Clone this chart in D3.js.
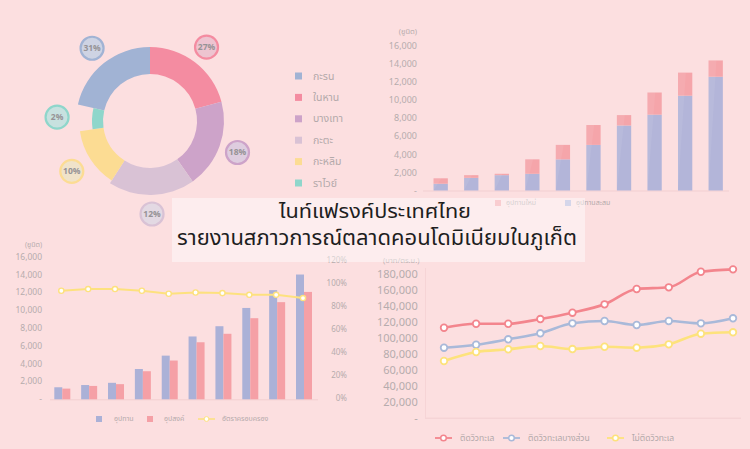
<!DOCTYPE html>
<html>
<head>
<meta charset="utf-8">
<script src="https://cdn.jsdelivr.net/npm/d3@7"></script>
<style>
  html, body { margin:0; padding:0; background:#fcdfe0; }
  svg { display:block; font-family:"Noto Sans Thai","Noto Sans","DejaVu Sans",sans-serif; }
  .tick-lbl { fill:#b6acad; }
  .leg { fill:#b3a9aa; }
</style>
</head>
<body>
<svg id="chart" width="750" height="449"></svg>
<script>
// donut: districts
var districts = ["กะรน", "ในหาน", "บางเทา", "กะตะ", "กะหลิม", "ราไวย์"];
var districtPct = [31, 27, 18, 12, 10, 2];
// angular share of each slice as drawn in the picture
var districtShare = [21.4, 20.8, 19.4, 18.9, 13.6, 5.9];
var districtColors = ["#a1b3d4", "#f48ca1", "#cda3c9", "#d9c2d5", "#fcdc93", "#8fd6cb"];

// top right: stacked supply
var periods = ["1", "2", "3", "4", "5", "6", "7", "8", "9", "10"];
var cumSupply = [750, 1400, 1700, 1850, 3450, 5050, 7200, 8400, 10500, 12600];
var newSupply = [600, 300, 150, 1600, 1600, 2200, 1150, 2450, 2550, 1800];

// bottom left: supply / demand / occupancy
var supply = [1350, 1600, 1850, 3400, 4900, 7050, 8200, 10250, 12250, 14000];
var demand = [1200, 1500, 1700, 3150, 4350, 6400, 7350, 9100, 10900, 12050];
var occupancy = [0.933, 0.948, 0.948, 0.933, 0.907, 0.918, 0.913, 0.898, 0.898, 0.870];

// bottom right: price per sq.m.
var priceSeaView = [112700, 117700, 117700, 123600, 131500, 142000, 161200, 163300, 182800, 185800];
var pricePartView = [87700, 91400, 98200, 105700, 118200, 121100, 116100, 121100, 118200, 124500];
var priceNoView = [71000, 82300, 85700, 89800, 86000, 88900, 87700, 91900, 105200, 107000];
var priceNames = ["ติดวิวทะเล", "ติดวิวทะเลบางส่วน", "ไม่ติดวิวทะเล"];
var priceColors = ["#f3858d", "#a9b9d9", "#fde27c"];

var svg = d3.select("#chart");
var numFmt = function(d){ return d == 0 ? "-" : d3.format(",")(d); };

drawDonut();
drawStacked();
drawCombo();
drawLines();
drawTitle();

function drawDonut(){
	var cx = 150, cy = 121;
	var total = d3.sum(districtShare);
	var pie = d3.pie().sort(null).value(function(d){ return d; })
		.startAngle(-districtShare[0] / total * Math.PI * 2)
		.endAngle(Math.PI * 2 - districtShare[0] / total * Math.PI * 2);
	var arcs = pie(districtShare);
	var outerR = d3.scaleLinear().domain([2, 12]).range([58, 74]).clamp(true);

	var g = svg.append("g").attr("transform", "translate(" + cx + "," + cy + ")");
	g.selectAll("path.slice")
		.data(arcs)
		.enter().append("path")
		.attr("class", "slice")
		.attr("d", function(d, i){
			return d3.arc().innerRadius(47).outerRadius(outerR(districtPct[i]))(d);
		})
		.attr("fill", function(d, i){ return districtColors[i]; });

	var lblArc = d3.arc().innerRadius(93).outerRadius(93);
	var lbl = g.selectAll("g.lbl")
		.data(arcs)
		.enter().append("g")
		.attr("class", "lbl")
		.attr("transform", function(d){ return "translate(" + lblArc.centroid(d) + ")"; });
	lbl.append("circle")
		.attr("r", 11.5)
		.attr("fill", function(d, i){ return d3.interpolateRgb(districtColors[i], "#e9e7ec")(0.62); })
		.attr("stroke", function(d, i){ return districtColors[i]; })
		.attr("stroke-width", 2.2);
	lbl.append("text")
		.attr("text-anchor", "middle")
		.attr("dy", "0.35em")
		.attr("font-size", 8.5)
		.attr("font-weight", "bold")
		.attr("fill", "#969396")
		.text(function(d, i){ return districtPct[i] + "%"; });

	// legend
	var leg = svg.append("g").attr("class", "donutLegend");
	var rowY = d3.scalePoint().domain(districts).range([76, 183]);
	districts.forEach(function(name, i){
		leg.append("rect")
			.attr("x", 295).attr("y", rowY(name) - 3.5)
			.attr("width", 7).attr("height", 7)
			.attr("fill", districtColors[i]);
		leg.append("text")
			.attr("class", "leg")
			.attr("x", 313).attr("y", rowY(name))
			.attr("dy", "0.35em")
			.attr("font-size", 10.5)
			.text(name);
	});
}

function drawStacked(){
	var x = d3.scalePoint().domain(periods).range([440.7, 715.7]);
	var y = d3.scaleLinear().domain([0, 16000]).range([190.5, 46]);
	var bw = 14.3;
	var g = svg.append("g");

	g.selectAll("text.yt")
		.data(y.ticks(8))
		.enter().append("text")
		.attr("class", "tick-lbl")
		.attr("x", 417).attr("y", function(d){ return y(d); })
		.attr("dy", "0.35em")
		.attr("text-anchor", "end")
		.attr("font-size", 9)
		.text(numFmt);
	g.append("text").attr("class", "tick-lbl")
		.attr("x", 417).attr("y", 34).attr("text-anchor", "end")
		.attr("font-size", 7.5).text("(ยูนิต)");

	g.append("line")
		.attr("x1", 423).attr("x2", 729)
		.attr("y1", y(0) + 0.5).attr("y2", y(0) + 0.5)
		.attr("stroke", "#f2cfd1");

	g.selectAll("rect.cum")
		.data(cumSupply)
		.enter().append("rect")
		.attr("x", function(d, i){ return x(periods[i]) - bw / 2; })
		.attr("y", function(d){ return y(d); })
		.attr("width", bw)
		.attr("height", function(d){ return y(0) - y(d); })
		.attr("fill", "#b3b5d9");
	g.selectAll("rect.new")
		.data(newSupply)
		.enter().append("rect")
		.attr("x", function(d, i){ return x(periods[i]) - bw / 2; })
		.attr("y", function(d, i){ return y(cumSupply[i] + d); })
		.attr("width", bw)
		.attr("height", function(d){ return y(0) - y(d); })
		.attr("fill", "#f5a5aa");
	// light facet on each bar
	g.selectAll("path.facet")
		.data(periods)
		.enter().append("path")
		.attr("d", function(d, i){
			var x0 = x(d) - bw / 2, top = y(cumSupply[i] + newSupply[i]);
			return "M" + x0 + "," + top + "L" + (x0 + bw * 0.55) + "," + top + "L" + x0 + "," + y(0) + "Z";
		})
		.attr("fill", "#fff").attr("fill-opacity", 0.07);

	var legend = [["อุปทานใหม่", "#f5a5aa", 495], ["อุปทานสะสม", "#b3b5d9", 565]];
	legend.forEach(function(l){
		g.append("rect").attr("x", l[2]).attr("y", 200).attr("width", 6).attr("height", 6).attr("fill", l[1]);
		g.append("text").attr("class", "leg").attr("x", l[2] + 11).attr("y", 203).attr("dy", "0.35em")
			.attr("font-size", 7).text(l[0]);
	});
}

function drawCombo(){
	var x = d3.scalePoint().domain(periods).range([62.3, 304]);
	var y = d3.scaleLinear().domain([0, 16000]).range([399.3, 256.7]);
	var y2 = d3.scaleLinear().domain([0, 1.2]).range([398.3, 260]);
	var bw = 8;
	var g = svg.append("g");

	g.selectAll("text.yl")
		.data(y.ticks(8))
		.enter().append("text")
		.attr("class", "tick-lbl")
		.attr("x", 42).attr("y", function(d){ return y(d); })
		.attr("dy", "0.35em").attr("text-anchor", "end")
		.attr("font-size", 8.5)
		.text(numFmt);
	g.append("text").attr("class", "tick-lbl")
		.attr("x", 42).attr("y", 247).attr("text-anchor", "end")
		.attr("font-size", 7).text("(ยูนิต)");

	g.selectAll("text.yr")
		.data(y2.ticks(6))
		.enter().append("text")
		.attr("class", "tick-lbl")
		.attr("x", 347).attr("y", function(d){ return y2(d); })
		.attr("dy", "0.35em").attr("text-anchor", "end")
		.attr("font-size", 8)
		.text(d3.format(".0%"));

	g.append("line")
		.attr("x1", 50).attr("x2", 318)
		.attr("y1", y(0) + 0.5).attr("y2", y(0) + 0.5)
		.attr("stroke", "#f2cfd1");

	g.selectAll("rect.sup")
		.data(supply)
		.enter().append("rect")
		.attr("x", function(d, i){ return x(periods[i]) - bw; })
		.attr("y", function(d){ return y(d); })
		.attr("width", bw)
		.attr("height", function(d){ return y(0) - y(d); })
		.attr("fill", "#abb1d7");
	g.selectAll("rect.dem")
		.data(demand)
		.enter().append("rect")
		.attr("x", function(d, i){ return x(periods[i]); })
		.attr("y", function(d){ return y(d); })
		.attr("width", bw)
		.attr("height", function(d){ return y(0) - y(d); })
		.attr("fill", "#f5a0a6");

	var line = d3.line()
		.x(function(d, i){ return x(periods[i]) - 1; })
		.y(function(d){ return y2(d); });
	g.append("path")
		.attr("d", line(occupancy))
		.attr("fill", "none")
		.attr("stroke", "#fde17e")
		.attr("stroke-width", 2);
	g.selectAll("circle.occ")
		.data(occupancy)
		.enter().append("circle")
		.attr("cx", function(d, i){ return x(periods[i]) - 1; })
		.attr("cy", function(d){ return y2(d); })
		.attr("r", 2.6)
		.attr("fill", "#fff")
		.attr("stroke", "#fde17e")
		.attr("stroke-width", 1.4);

	// legend
	g.append("rect").attr("x", 96).attr("y", 416).attr("width", 6).attr("height", 6).attr("fill", "#abb1d7");
	g.append("text").attr("class", "leg").attr("x", 114).attr("y", 419).attr("dy", "0.35em").attr("font-size", 7).text("อุปทาน");
	g.append("rect").attr("x", 147).attr("y", 416).attr("width", 6).attr("height", 6).attr("fill", "#f5a0a6");
	g.append("text").attr("class", "leg").attr("x", 164).attr("y", 419).attr("dy", "0.35em").attr("font-size", 7).text("อุปสงค์");
	g.append("line").attr("x1", 198).attr("x2", 215).attr("y1", 419).attr("y2", 419).attr("stroke", "#fde17e").attr("stroke-width", 1.5);
	g.append("circle").attr("cx", 206.5).attr("cy", 419).attr("r", 2.4).attr("fill", "#fff").attr("stroke", "#fde17e");
	g.append("text").attr("class", "leg").attr("x", 222).attr("y", 419).attr("dy", "0.35em").attr("font-size", 7).text("อัตราครอบครอง");
}

function drawLines(){
	var x = d3.scalePoint().domain(periods).range([444, 733]);
	var y = d3.scaleLinear().domain([0, 180000]).range([417.7, 274]);
	var g = svg.append("g");

	g.selectAll("text.yt")
		.data(y.ticks(9))
		.enter().append("text")
		.attr("class", "tick-lbl")
		.attr("x", 417.7).attr("y", function(d){ return y(d); })
		.attr("dy", "0.35em").attr("text-anchor", "end")
		.attr("font-size", 11)
		.text(numFmt);
	g.append("text").attr("class", "tick-lbl")
		.attr("x", 383).attr("y", 263)
		.attr("font-size", 7.5).text("(บาท/ตร.ม.)");

	g.append("line")
		.attr("x1", 425.5).attr("x2", 425.5).attr("y1", 268).attr("y2", y(0))
		.attr("stroke", "#f6d4d6");
	g.append("line")
		.attr("x1", 425).attr("x2", 741)
		.attr("y1", y(0) + 0.5).attr("y2", y(0) + 0.5)
		.attr("stroke", "#f2cfd1");

	var series = [priceSeaView, pricePartView, priceNoView];
	var line = d3.line()
		.curve(d3.curveMonotoneX)
		.x(function(d, i){ return x(periods[i]); })
		.y(function(d){ return y(d); });

	series.forEach(function(s, k){
		g.append("path")
			.attr("d", line(s))
			.attr("fill", "none")
			.attr("stroke", priceColors[k])
			.attr("stroke-width", 2.6);
	});
	series.forEach(function(s, k){
		g.selectAll("circle.s" + k)
			.data(s)
			.enter().append("circle")
			.attr("cx", function(d, i){ return x(periods[i]); })
			.attr("cy", function(d){ return y(d); })
			.attr("r", 3.3)
			.attr("fill", "#fff")
			.attr("stroke", priceColors[k])
			.attr("stroke-width", 1.8);
	});

	var legX = [435, 503, 607];
	priceNames.forEach(function(name, k){
		var lx = legX[k];
		g.append("line").attr("x1", lx).attr("x2", lx + 17).attr("y1", 438).attr("y2", 438)
			.attr("stroke", priceColors[k]).attr("stroke-width", 1.8);
		g.append("circle").attr("cx", lx + 8.5).attr("cy", 438).attr("r", 2.8)
			.attr("fill", "#fff").attr("stroke", priceColors[k]).attr("stroke-width", 1.5);
		g.append("text").attr("class", "leg").attr("x", lx + 25).attr("y", 438).attr("dy", "0.35em")
			.attr("font-size", 8.5).text(name);
	});
}

function drawTitle(){
	svg.append("rect")
		.attr("x", 172).attr("y", 198)
		.attr("width", 413).attr("height", 64)
		.attr("fill", "#fff").attr("fill-opacity", 0.45);
	svg.append("text")
		.attr("x", 375).attr("y", 218)
		.attr("text-anchor", "middle")
		.attr("font-size", 20)
		.attr("textLength", 192)
		.attr("lengthAdjust", "spacingAndGlyphs")
		.attr("fill", "#1e1e1e")
		.text("ไนท์แฟรงค์ประเทศไทย");
	svg.append("text")
		.attr("x", 377).attr("y", 245)
		.attr("text-anchor", "middle")
		.attr("font-size", 21)
		.attr("textLength", 400)
		.attr("lengthAdjust", "spacingAndGlyphs")
		.attr("fill", "#1e1e1e")
		.text("รายงานสภาวการณ์ตลาดคอนโดมิเนียมในภูเก็ต");
}
</script>
</body>
</html>
